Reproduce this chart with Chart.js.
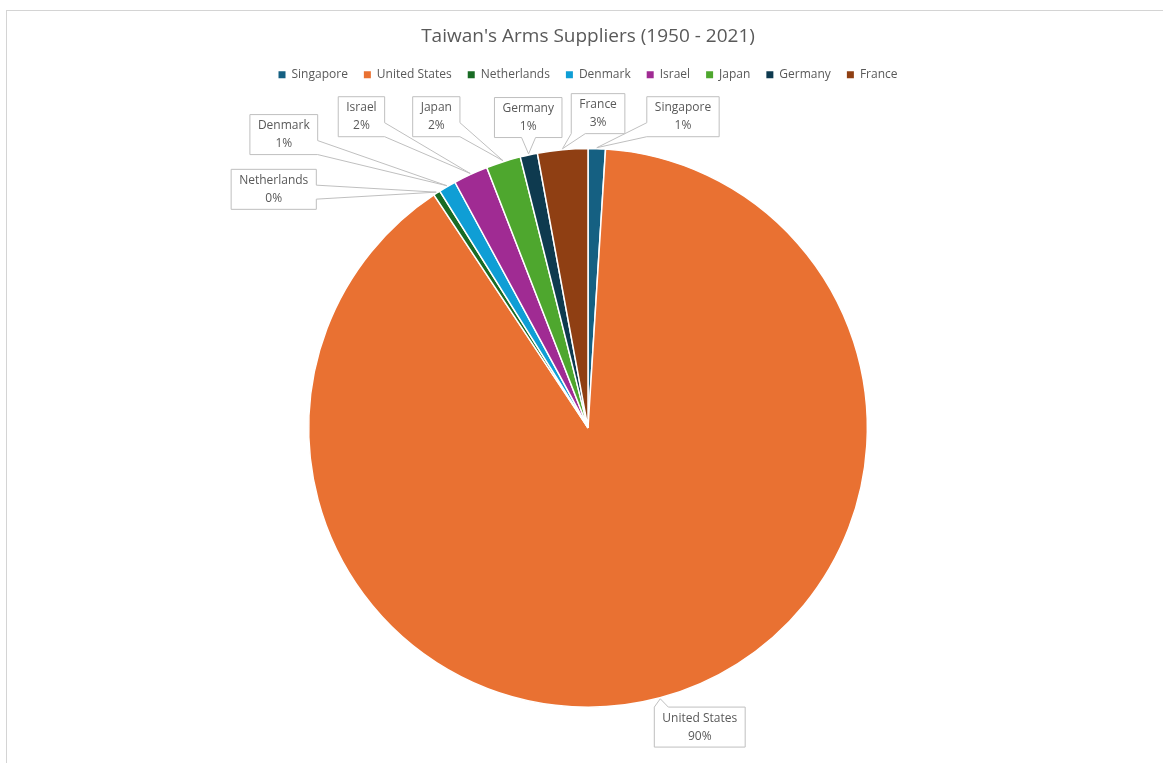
<!DOCTYPE html>
<html>
<head>
<meta charset="utf-8">
<script src="https://cdn.jsdelivr.net/npm/chart.js@4.4.1/dist/chart.umd.min.js"></script>
<style>
html, body { margin: 0; padding: 0; background: #fff; }
#frame { position: absolute; left: 6px; top: 10px; right: -2px; bottom: -2px; border: 1px solid #d4d4d4; }
canvas { position: absolute; left: 0; top: 0; }
</style>
</head>
<body>
<div id="frame"></div>
<canvas id="armsChart" width="1163" height="763"></canvas>
<script>
const suppliers = ['Singapore', 'United States', 'Netherlands', 'Denmark', 'Israel', 'Japan', 'Germany', 'France'];
const shares = [1.0, 89.7, 0.4, 1.0, 2.0, 2.0, 1.0, 2.9];
const sliceColors = ['#156082', '#e97132', '#196b24', '#0f9ed5', '#a02b93', '#4ea72e', '#0e3a4f', '#8f3f13'];
// callout box centres, relative to the pie centre, in radii
const calloutSpots = [[0.34, -1.114], [0.4, 1.071], [-1.125, -0.854], [-1.089, -1.05], [-0.811, -1.114], [-0.543, -1.114], [-0.214, -1.111], [0.036, -1.125]];

const FONT = '"Open Sans", "Liberation Sans", sans-serif';
const GREY = '#595959';

// push the pie down below the legend
const legendGap = {
    id: 'legendGap',
    beforeInit(chart) {
        const fit = chart.legend.fit;
        chart.legend.fit = function () {
            fit.call(this);
            this.height += 57;
        };
    }
};

function drawCallout(ctx, b, tip) {
    const half = 7;
    const ox = tip.x - Math.min(Math.max(tip.x, b.l), b.r);
    const oy = tip.y - Math.min(Math.max(tip.y, b.t), b.b);
    let side;
    if (Math.abs(oy) >= Math.abs(ox)) side = oy > 0 ? 'bottom' : 'top';
    else side = ox > 0 ? 'right' : 'left';
    const along = (v, lo, hi) => Math.min(Math.max(v, lo + half), hi - half);

    ctx.beginPath();
    ctx.moveTo(b.l, b.t);
    if (side === 'top') {
        const m = along(tip.x, b.l, b.r);
        ctx.lineTo(m - half, b.t); ctx.lineTo(tip.x, tip.y); ctx.lineTo(m + half, b.t);
    }
    ctx.lineTo(b.r, b.t);
    if (side === 'right') {
        const m = along(tip.y, b.t, b.b);
        ctx.lineTo(b.r, m - half); ctx.lineTo(tip.x, tip.y); ctx.lineTo(b.r, m + half);
    }
    ctx.lineTo(b.r, b.b);
    if (side === 'bottom') {
        const m = along(tip.x, b.l, b.r);
        ctx.lineTo(m + half, b.b); ctx.lineTo(tip.x, tip.y); ctx.lineTo(m - half, b.b);
    }
    ctx.lineTo(b.l, b.b);
    if (side === 'left') {
        const m = along(tip.y, b.t, b.b);
        ctx.lineTo(b.l, m + half); ctx.lineTo(tip.x, tip.y); ctx.lineTo(b.l, m - half);
    }
    ctx.closePath();
    ctx.fillStyle = '#fff';
    ctx.fill();
    ctx.strokeStyle = '#bfbfbf';
    ctx.lineWidth = 1;
    ctx.stroke();
}

const callouts = {
    id: 'callouts',
    afterDatasetsDraw(chart) {
        const ctx = chart.ctx;
        const meta = chart.getDatasetMeta(0);
        const total = shares.reduce((a, b) => a + b, 0);
        ctx.save();
        ctx.font = '12px ' + FONT;
        meta.data.forEach((arc, i) => {
            const p = arc.getProps(['x', 'y', 'outerRadius', 'startAngle', 'endAngle'], true);
            const mid = (p.startAngle + p.endAngle) / 2;
            const tip = { x: p.x + Math.cos(mid) * (p.outerRadius + 1), y: p.y + Math.sin(mid) * (p.outerRadius + 1) };
            const lines = [suppliers[i], Math.round(shares[i] / total * 100) + '%'];
            const w = Math.max(...lines.map(t => ctx.measureText(t).width)) + 16;
            const h = 40;
            const cx = p.x + calloutSpots[i][0] * p.outerRadius;
            const cy = p.y + calloutSpots[i][1] * p.outerRadius;
            drawCallout(ctx, { l: cx - w / 2, r: cx + w / 2, t: cy - h / 2, b: cy + h / 2 }, tip);
            ctx.fillStyle = GREY;
            ctx.textAlign = 'center';
            ctx.textBaseline = 'middle';
            ctx.fillText(lines[0], cx, cy - 9);
            ctx.fillText(lines[1], cx, cy + 9);
        });
        ctx.restore();
    }
};

const ctxArms = document.getElementById('armsChart').getContext('2d');
new Chart(ctxArms, {
    type: 'pie',
    data: {
        labels: suppliers,
        datasets: [{
            data: shares,
            backgroundColor: sliceColors,
            borderColor: '#fff',
            borderWidth: 1.5,
        }]
    },
    options: {
        responsive: false,
        animation: false,
        layout: { padding: { left: 13, right: 0, top: 0, bottom: 55 } },
        plugins: {
            title: {
                display: true,
                text: "Taiwan's Arms Suppliers (1950 - 2021)",
                color: GREY,
                font: { family: FONT, size: 19, weight: 'normal' },
                padding: { top: 25, bottom: 5 }
            },
            legend: {
                position: 'top',
                labels: {
                    boxWidth: 7,
                    boxHeight: 7,
                    padding: 16,
                    color: GREY,
                    font: { family: FONT, size: 12 },
                    generateLabels(chart) {
                        return suppliers.map((s, i) => ({
                            text: s,
                            fillStyle: sliceColors[i],
                            strokeStyle: sliceColors[i],
                            lineWidth: 0,
                            fontColor: GREY,
                            hidden: false,
                            index: i
                        }));
                    }
                }
            },
            tooltip: { enabled: false }
        }
    },
    plugins: [legendGap, callouts]
});
</script>
</body>
</html>
